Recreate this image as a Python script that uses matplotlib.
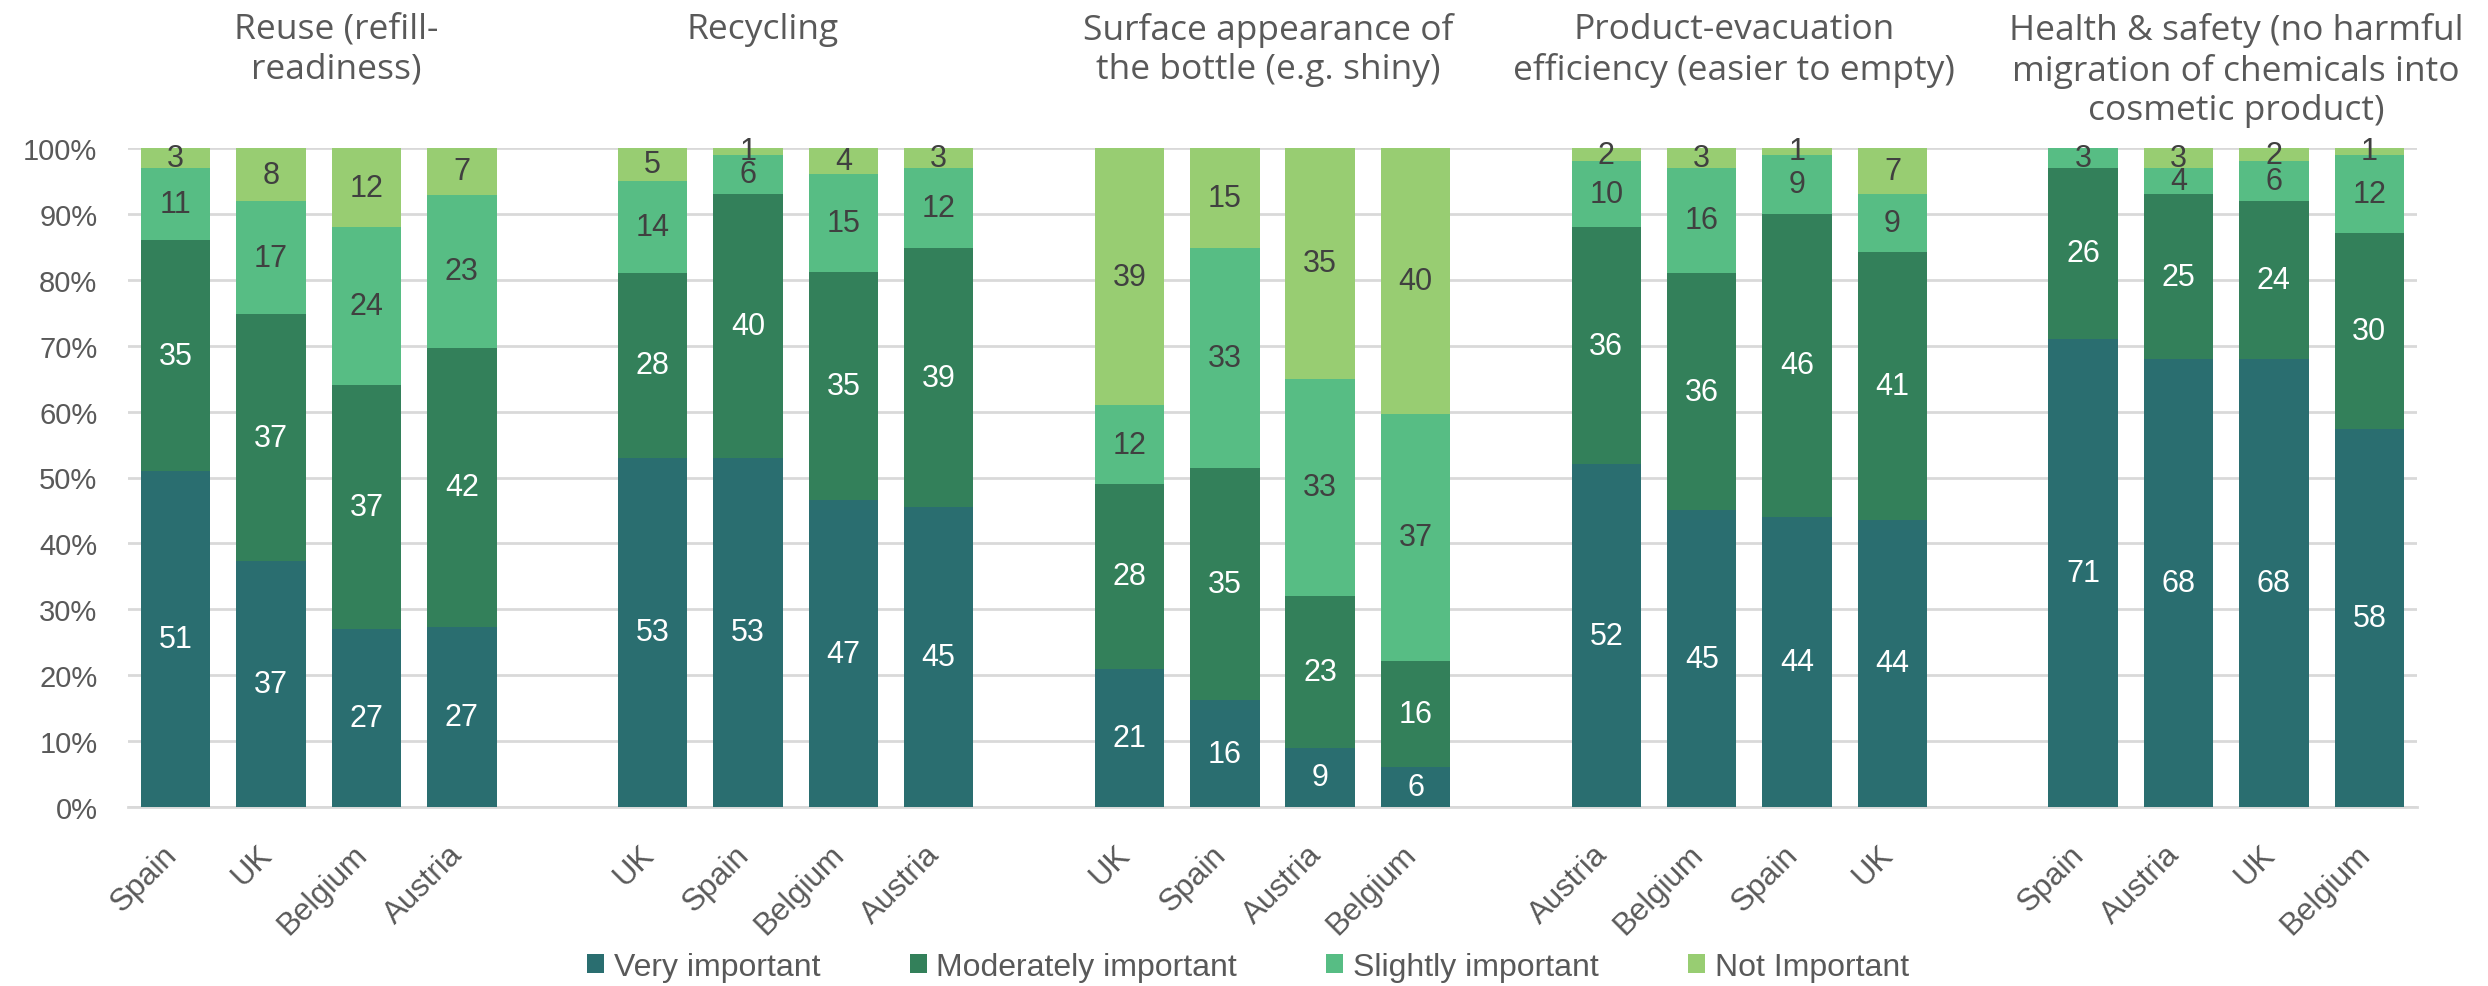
import matplotlib
matplotlib.use('Agg')
import matplotlib.pyplot as plt
from matplotlib.patches import Patch
from matplotlib.transforms import blended_transform_factory, ScaledTranslation
import numpy as np

group_titles = [
    "Reuse (refill-\nreadiness)",
    "Recycling",
    "Surface appearance of\nthe bottle (e.g. shiny)",
    "Product-evacuation\nefficiency (easier to empty)",
    "Health & safety (no harmful\nmigration of chemicals into\ncosmetic product)",
]
countries = [
    ["Spain", "UK", "Belgium", "Austria"],
    ["UK", "Spain", "Belgium", "Austria"],
    ["UK", "Spain", "Austria", "Belgium"],
    ["Austria", "Belgium", "Spain", "UK"],
    ["Spain", "Austria", "UK", "Belgium"],
]
very_important = [[51, 37, 27, 27], [53, 53, 47, 45], [21, 16, 9, 6], [52, 45, 44, 44], [71, 68, 68, 58]]
moderately_important = [[35, 37, 37, 42], [28, 40, 35, 39], [28, 35, 23, 16], [36, 36, 46, 41], [26, 25, 24, 30]]
slightly_important = [[11, 17, 24, 23], [14, 6, 15, 12], [12, 33, 33, 37], [10, 16, 9, 9], [3, 4, 6, 12]]
not_important = [[3, 8, 12, 7], [5, 1, 4, 3], [39, 15, 35, 40], [2, 3, 1, 7], [0, 3, 2, 1]]
series_names = ["Very important", "Moderately important", "Slightly important", "Not Important"]
y_ticks = [0, 10, 20, 30, 40, 50, 60, 70, 80, 90, 100]

colors = ["#2A6E70", "#33805A", "#57BD84", "#98CD72"]
label_colors = ["white", "white", "#404040", "#404040"]
gray = "#595959"
tick_font = "Liberation Sans"
title_font = "Open Sans"

W, H = 2488, 987
fig = plt.figure(figsize=(W / 100, H / 100), dpi=100)
ax = fig.add_axes([128 / W, 1 - 808 / H, (2417 - 128) / W, (808 - 149) / H])

series = [very_important, moderately_important, slightly_important, not_important]
positions = []
labels = []
for g in range(len(group_titles)):
    for i in range(4):
        pos = g * 5 + i
        positions.append(pos)
        labels.append(countries[g][i])
        vals = [series[s][g][i] for s in range(4)]
        total = sum(vals)
        bottom = 0.0
        for s in range(4):
            h = vals[s] / total * 100
            ax.bar(pos, h, bottom=bottom, width=0.73, color=colors[s], zorder=3, linewidth=0)
            if vals[s] > 0:
                ax.text(pos, bottom + h / 2, str(vals[s]), ha='center', va='center',
                        fontsize=22, color=label_colors[s], family=tick_font, zorder=4,
                        clip_on=False)
            bottom += h

ax.set_xlim(-0.5, 23.5)
ax.set_ylim(0, 100)
ax.set_yticks(y_ticks)
ax.set_yticklabels([f"{t}%" for t in y_ticks], family=tick_font, fontsize=21, color=gray)
ax.set_xticks(positions)
ax.set_xticklabels(labels, rotation=45, ha='right', va='top', rotation_mode='anchor',
                   family=tick_font, fontsize=22.5, color=gray)
ax.tick_params(axis='both', length=0)
ax.tick_params(axis='y', pad=22)
ax.tick_params(axis='x', pad=23)
shift = ScaledTranslation(-14 / 100, 0, fig.dpi_scale_trans)
for lbl in ax.get_xticklabels():
    lbl.set_transform(lbl.get_transform() + shift)
ax.yaxis.grid(True, color="#D9D9D9", linewidth=2, zorder=0)
ax.set_axisbelow(True)
for sp in ["left", "right", "top"]:
    ax.spines[sp].set_visible(False)
ax.spines["bottom"].set_color("#D9D9D9")
ax.spines["bottom"].set_linewidth(2)

# group titles
trans = blended_transform_factory(ax.transData, fig.transFigure)
title_offsets = [0.18, -0.35, -0.04, -0.16, 0.1]
for g, t in enumerate(group_titles):
    cx = g * 5 + 1.5 + title_offsets[g]
    fig.text(cx, 1 - 13 / H, t, transform=trans, ha='center', va='top',
             fontsize=25.5, color=gray, family=title_font, linespacing=1.21)

handles = [Patch(facecolor=c, edgecolor='none') for c in colors]
fig.legend(handles, series_names, loc='center', bbox_to_anchor=(1248 / W, 1 - 968 / H),
           ncol=4, frameon=False, prop={'family': tick_font, 'size': 23},
           labelcolor=gray, handlelength=0.53, handleheight=0.56, handletextpad=0.3,
           columnspacing=2.8, borderpad=0)

fig.savefig("out.png", dpi=100)
